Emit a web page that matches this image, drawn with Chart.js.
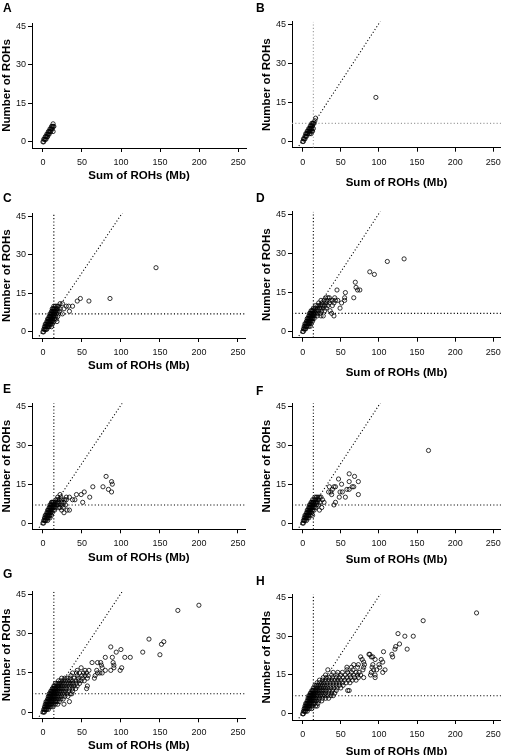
<!DOCTYPE html>
<html>
<head>
<meta charset="utf-8">
<script src="https://cdn.jsdelivr.net/npm/chart.js@4.4.1/dist/chart.umd.min.js"></script>
<style>
html, body { margin: 0; padding: 0; background: #fff; overflow: hidden; }
body { width: 506px; height: 755px; position: relative; }
canvas { position: absolute; }
</style>
</head>
<body>
<script>
// [sum of ROHs (Mb), number of ROHs] per individual
const rohA = [[0,0],[1,0],[1,1],[2,1],[3,1],[3,2],[4,2],[5,2],[5,3],[6,3],[7,3],[7,4],[8,4],[9,4],[9,5],[10,5],[11,5],[11,6],[12,6],[13,6],[13,7],[12,5],[10,4],[13,4],[8,3],[14,6],[6,2],[4,1]];

const rohB = [[0,0],[1,0],[1,1],[2,1],[3,1],[3,2],[4,2],[5,2],[4,3],[5,3],[6,3],[7,3],[6,4],[7,4],[8,4],[9,4],[8,5],[9,5],[10,5],[11,5],[10,6],[11,6],[12,6],[13,6],[12,7],[13,7],[14,7],[15,7],[16,8],[17,9],[9,3],[11,3],[12,4],[13,4],[14,5],[10,4],[12,5],[96,17]];

const rohC = [[0,0],[1,0],[1,1],[2,1],[3,1],[4,1],[5,1],[2,2],[3,2],[4,2],[5,2],[6,2],[7,2],[8,2],[11,2],
  [3,3],[4,3],[5,3],[6,3],[7,3],[8,3],[9,3],[10,3],[12,3],[5,4],[6,4],[7,4],[8,4],[9,4],[10,4],[11,4],[12,4],[14,4],[18,4],
  [6,5],[7,5],[8,5],[9,5],[10,5],[11,5],[12,5],[13,5],[15,5],[17,5],[8,6],[9,6],[10,6],[11,6],[12,6],[13,6],[14,6],[16,6],[19,6],
  [9,7],[10,7],[11,7],[12,7],[13,7],[14,7],[15,7],[17,7],[20,7],[25,7],[11,8],[12,8],[13,8],[14,8],[15,8],[16,8],[18,8],[21,8],[34,8],
  [12,9],[13,9],[14,9],[15,9],[17,9],[19,9],[22,9],[27,9],[14,10],[16,10],[18,10],[20,10],[30,10],[33,10],[38,10],
  [22,11],[25,11],[44,12],[59,12],[48,13],[86,13],[145,25]];

const rohD = [[0,0],[1,0],[1,1],[2,1],[3,1],[4,1],[2,2],[3,2],[4,2],[5,2],[6,2],[8,2],[10,2],
  [3,3],[4,3],[5,3],[6,3],[7,3],[8,3],[9,3],[11,3],[5,4],[6,4],[7,4],[8,4],[9,4],[10,4],[11,4],[13,4],
  [6,5],[7,5],[8,5],[9,5],[10,5],[11,5],[12,5],[13,5],[15,5],[8,6],[9,6],[10,6],[11,6],[12,6],[13,6],[14,6],[16,6],[19,6],[24,6],[27,6],[41,6],
  [9,7],[10,7],[11,7],[12,7],[13,7],[14,7],[15,7],[17,7],[20,7],[23,7],[38,7],[11,8],[12,8],[13,8],[14,8],[16,8],[18,8],[21,8],[25,8],[29,8],[36,8],
  [14,9],[16,9],[19,9],[22,9],[24,9],[27,9],[31,9],[49,9],[17,10],[20,10],[23,10],[26,10],[29,10],[33,10],[39,10],
  [21,11],[25,11],[28,11],[31,11],[35,11],[41,11],[51,11],[24,12],[28,12],[32,12],[36,12],[39,12],[43,12],[46,12],[55,12],
  [30,13],[33,13],[35,13],[42,13],[55,13],[67,13],[56,15],[45,16],[72,16],[75,16],[70,17],[69,19],[94,22],[88,23],[111,27],[133,28]];

const rohE = [[0,0],[1,0],[1,1],[2,1],[3,1],[4,1],[6,1],[2,2],[3,2],[4,2],[5,2],[6,2],[7,2],[9,2],
  [3,3],[4,3],[5,3],[6,3],[7,3],[8,3],[9,3],[11,3],[5,4],[6,4],[7,4],[8,4],[9,4],[10,4],[12,4],[27,4],
  [6,5],[7,5],[8,5],[9,5],[10,5],[11,5],[13,5],[15,5],[24,5],[31,5],[34,5],[8,6],[9,6],[10,6],[11,6],[12,6],[13,6],[14,6],[16,6],[20,6],[22,6],[26,6],
  [9,7],[10,7],[11,7],[12,7],[13,7],[14,7],[15,7],[17,7],[19,7],[22,7],[25,7],[29,7],[11,8],[12,8],[13,8],[14,8],[16,8],[18,8],[20,8],[24,8],[27,8],[51,8],
  [17,9],[19,9],[21,9],[24,9],[28,9],[30,9],[38,9],[41,9],[19,10],[23,10],[30,10],[34,10],[60,10],
  [22,11],[43,11],[49,11],[53,12],[88,12],[84,13],[64,14],[77,14],[89,15],[88,16],[81,18]];

const rohF = [[0,0],[1,0],[1,1],[2,1],[3,1],[5,1],[2,2],[3,2],[4,2],[5,2],[6,2],[8,2],
  [3,3],[4,3],[5,3],[6,3],[7,3],[8,3],[10,3],[13,3],[5,4],[6,4],[7,4],[8,4],[9,4],[10,4],[12,4],
  [6,5],[7,5],[8,5],[9,5],[10,5],[11,5],[13,5],[15,5],[22,5],[8,6],[9,6],[10,6],[11,6],[12,6],[13,6],[15,6],[17,6],[25,6],
  [9,7],[10,7],[11,7],[12,7],[13,7],[14,7],[16,7],[18,7],[21,7],[41,7],[11,8],[12,8],[13,8],[14,8],[15,8],[17,8],[19,8],[23,8],[28,8],[43,8],
  [13,9],[15,9],[17,9],[19,9],[21,9],[26,9],[16,10],[18,10],[20,10],[22,10],[24,10],[48,10],[56,10],
  [38,11],[73,11],[34,12],[37,12],[49,12],[52,12],[39,13],[58,13],[61,13],[35,14],[41,14],[43,14],[65,14],[67,14],
  [51,15],[61,16],[73,16],[47,17],[68,18],[61,19],[165,28]];

const rohG = [[0,0],[1,0],[2,0],[1,1],[2,1],[3,1],[4,1],[5,1],[7,1],[2,2],[3,2],[4,2],[5,2],[6,2],[7,2],[8,2],[10,2],[13,2],
  [3,3],[4,3],[5,3],[6,3],[7,3],[8,3],[9,3],[10,3],[12,3],[14,3],[16,3],[19,3],[27,3],
  [4,4],[5,4],[6,4],[7,4],[8,4],[9,4],[10,4],[11,4],[12,4],[14,4],[16,4],[18,4],[21,4],[34,4],
  [6,5],[7,5],[8,5],[9,5],[10,5],[11,5],[12,5],[13,5],[14,5],[16,5],[18,5],[20,5],[23,5],[26,5],
  [7,6],[8,6],[9,6],[10,6],[11,6],[12,6],[13,6],[14,6],[15,6],[17,6],[19,6],[21,6],[24,6],[28,6],[32,6],
  [8,7],[9,7],[10,7],[11,7],[12,7],[13,7],[14,7],[15,7],[16,7],[18,7],[20,7],[22,7],[25,7],[28,7],[31,7],[35,7],[37,7],
  [10,8],[11,8],[12,8],[13,8],[14,8],[15,8],[16,8],[17,8],[19,8],[21,8],[23,8],[26,8],[29,8],[33,8],[38,8],
  [12,9],[13,9],[14,9],[15,9],[16,9],[18,9],[20,9],[22,9],[24,9],[27,9],[30,9],[34,9],[38,9],[42,9],[56,9],
  [14,10],[15,10],[17,10],[19,10],[21,10],[23,10],[25,10],[28,10],[31,10],[34,10],[37,10],[40,10],[44,10],[57,10],
  [16,11],[18,11],[20,11],[22,11],[24,11],[27,11],[30,11],[33,11],[36,11],[39,11],[43,11],[47,11],
  [20,12],[23,12],[26,12],[29,12],[32,12],[35,12],[38,12],[42,12],[46,12],[49,12],[53,12],
  [24,13],[28,13],[31,13],[35,13],[40,13],[45,13],[51,13],[57,13],[66,13],[36,14],[44,14],[50,14],[54,14],[58,14],[67,14],
  [38,15],[43,15],[47,15],[52,15],[56,15],[70,15],[73,15],[76,15],[44,16],[54,16],[59,16],[69,16],[80,16],[87,16],[99,16],
  [49,17],[76,17],[91,17],[101,17],[75,18],[91,18],[63,19],[70,19],[74,19],[90,19],[80,21],[89,21],[105,21],[112,21],
  [150,22],[94,23],[128,23],[100,24],[87,25],[152,26],[155,27],[136,28],[173,39],[200,41]];

const rohH = [[0,0],[1,0],[1,1],[2,1],[3,1],[4,1],[6,1],[2,2],[3,2],[4,2],[5,2],[6,2],[7,2],[9,2],[12,2],
  [3,3],[4,3],[5,3],[6,3],[7,3],[8,3],[9,3],[11,3],[13,3],[17,3],[19,3],[4,4],[5,4],[6,4],[7,4],[8,4],[9,4],[10,4],[12,4],[14,4],[16,4],[20,4],
  [6,5],[7,5],[8,5],[9,5],[10,5],[11,5],[12,5],[14,5],[16,5],[18,5],[21,5],[25,5],
  [7,6],[8,6],[9,6],[10,6],[11,6],[12,6],[13,6],[15,6],[17,6],[19,6],[22,6],[26,6],[30,6],[34,6],
  [8,7],[9,7],[10,7],[11,7],[12,7],[13,7],[14,7],[16,7],[18,7],[20,7],[23,7],[26,7],[29,7],[33,7],[37,7],[40,7],
  [10,8],[11,8],[12,8],[13,8],[14,8],[15,8],[17,8],[19,8],[21,8],[24,8],[27,8],[30,8],[34,8],[38,8],[42,8],
  [12,9],[13,9],[14,9],[16,9],[18,9],[20,9],[22,9],[25,9],[28,9],[31,9],[35,9],[39,9],[44,9],[59,9],[61,9],
  [14,10],[16,10],[18,10],[20,10],[22,10],[24,10],[27,10],[30,10],[33,10],[37,10],[41,10],[45,10],[50,10],
  [16,11],[18,11],[20,11],[23,11],[26,11],[29,11],[32,11],[36,11],[40,11],[44,11],[48,11],[53,11],
  [19,12],[22,12],[25,12],[28,12],[32,12],[36,12],[40,12],[44,12],[48,12],[52,12],[57,12],[62,12],
  [22,13],[26,13],[30,13],[34,13],[38,13],[42,13],[46,13],[50,13],[55,13],[60,13],[65,13],[70,13],
  [27,14],[31,14],[35,14],[39,14],[44,14],[48,14],[53,14],[58,14],[63,14],[68,14],[73,14],[80,14],[95,14],
  [30,15],[38,15],[45,15],[50,15],[56,15],[62,15],[67,15],[72,15],[76,15],[89,15],[95,15],
  [40,16],[46,16],[52,16],[59,16],[64,16],[70,16],[74,16],[90,16],[105,16],[33,17],[58,17],[66,17],[79,17],[93,17],[97,17],[108,17],
  [58,18],[64,18],[72,18],[80,18],[91,18],[101,18],[67,19],[73,19],[81,19],[92,19],[100,19],[80,20],[105,20],
  [78,21],[95,21],[103,21],[76,22],[90,22],[92,22],[118,22],[87,23],[88,23],[117,23],[106,24],[121,25],[137,25],
  [122,26],[127,27],[134,30],[145,30],[125,31],[158,36],[228,39]];

const sumTicks = [0, 50, 100, 150, 200, 250];
const countTicks = [0, 15, 30, 45];

// reference cut-offs and line drawn in panels B-H
const sumCut = 14;
const countCut = 7;
const refSlope = 0.45;
const refIntercept = 0.5;

const xMin = -14, xMax = 260;
const yMin = -2.4, yMax = 46.2;

const CW = 253, CH = 196;

// canvas position, plot box (page px), title centres, letter baseline
const panels = [
  { letter: "A", data: rohA, cx: 0,   cy: 0,   plot: [32, 23, 246, 148],        xt: 176,   yt: 7,    lx: 3,   ly: 11.7, guides: null },
  { letter: "B", data: rohB, cx: 253, cy: 0,   plot: [292, 21.7, 503.7, 147.7], xt: 183.3, yt: 266.5, lx: 256, ly: 11.7, guides: "#9a9a9a" },
  { letter: "C", data: rohC, cx: 0,   cy: 190, plot: [32, 213.3, 245.7, 338],   xt: 366.3, yt: 7,    lx: 3,   ly: 201.7, guides: "#000" },
  { letter: "D", data: rohD, cx: 253, cy: 190, plot: [292, 211.7, 503.7, 337.7], xt: 373.3, yt: 266.5, lx: 256, ly: 201.7, guides: "#000" },
  { letter: "E", data: rohE, cx: 0,   cy: 377, plot: [32, 403.3, 245.7, 529.3], xt: 558.3, yt: 7,    lx: 3,   ly: 393.3, guides: "#000" },
  { letter: "F", data: rohF, cx: 253, cy: 377, plot: [292, 403.3, 503.7, 529.3], xt: 560,   yt: 266.5, lx: 256, ly: 395, guides: "#000" },
  { letter: "G", data: rohG, cx: 0,   cy: 566, plot: [32, 591.7, 245.7, 718.3], xt: 746.3, yt: 7,    lx: 3,   ly: 578.3, guides: "#000" },
  { letter: "H", data: rohH, cx: 253, cy: 566, plot: [292, 594.3, 503.7, 720],   xt: 751.7, yt: 266.5, lx: 256, ly: 585, guides: "#000" }
];

Chart.defaults.font.family = "Arial, 'Liberation Sans', sans-serif";
Chart.defaults.color = "#000";
Chart.defaults.animation = false;

const letterPlugin = {
  id: "panelLetter",
  afterDraw(chart, args, opts) {
    const ctx = chart.ctx;
    ctx.save();
    ctx.font = "bold 12px Arial, 'Liberation Sans', sans-serif";
    ctx.fillStyle = "#000";
    ctx.textBaseline = "alphabetic";
    ctx.fillText(opts.text, opts.x, opts.y);
    ctx.restore();
  }
};

const dotted = (color, pts) => ({
  type: "line",
  data: pts,
  borderColor: color,
  borderWidth: 1.1,
  borderDash: [1.1, 2.2],
  pointRadius: 0,
  fill: false,
  showLine: true,
  order: 2
});

panels.forEach(p => {
  const cv = document.createElement("canvas");
  cv.width = CW;
  cv.height = CH;
  cv.style.left = p.cx + "px";
  cv.style.top = p.cy + "px";
  cv.style.width = CW + "px";
  cv.style.height = CH + "px";
  document.body.appendChild(cv);

  const L = p.plot[0] - p.cx;
  const T = p.plot[1] - p.cy;
  const R = p.plot[2] - p.cx;
  const B = p.plot[3] - p.cy;

  const datasets = [{
    data: p.data.map(d => ({ x: d[0], y: d[1] })),
    pointStyle: "circle",
    pointRadius: 2.1,
    pointBorderWidth: 0.8,
    pointBorderColor: "#000",
    pointBackgroundColor: "rgba(0,0,0,0)",
    showLine: false,
    order: 1
  }];

  if (p.guides) {
    datasets.push(dotted(p.guides, [{ x: sumCut, y: yMin }, { x: sumCut, y: yMax }]));
    datasets.push(dotted(p.guides, [{ x: xMin, y: countCut }, { x: xMax, y: countCut }]));
    datasets.push(dotted("#000", [
      { x: -5, y: refIntercept + refSlope * -5 },
      { x: 110, y: refIntercept + refSlope * 110 }
    ]));
  }

  const tickFont = { size: 9 };
  const titleFont = { size: 11.5, weight: "bold" };

  new Chart(cv, {
    type: "scatter",
    data: { datasets },
    plugins: [letterPlugin],
    options: {
      responsive: false,
      devicePixelRatio: 1,
      events: [],
      layout: { padding: { top: T, right: CW - R, left: 0, bottom: 0 } },
      plugins: {
        legend: { display: false },
        tooltip: { enabled: false },
        panelLetter: { text: p.letter, x: p.lx - p.cx, y: p.ly - p.cy }
      },
      scales: {
        x: {
          type: "linear",
          min: xMin,
          max: xMax,
          afterBuildTicks: s => { s.ticks = sumTicks.map(v => ({ value: v })); },
          afterFit: s => { s.height = CH - B; },
          ticks: { font: tickFont, color: "#111", padding: 5, maxRotation: 0, autoSkip: false },
          grid: { drawOnChartArea: false, drawTicks: true, tickLength: 4, color: "#000", lineWidth: 1 },
          border: { display: true, color: "#000", width: 1 },
          title: {
            display: true,
            text: "Sum of ROHs (Mb)",
            font: titleFont,
            color: "#000",
            padding: { top: 0, bottom: CH - 6.9 - (p.xt - p.cy) }
          }
        },
        y: {
          type: "linear",
          min: yMin,
          max: yMax,
          afterBuildTicks: s => { s.ticks = countTicks.map(v => ({ value: v })); },
          afterFit: s => { s.width = L; },
          ticks: { font: tickFont, color: "#111", padding: 2, autoSkip: false },
          grid: { drawOnChartArea: false, drawTicks: true, tickLength: 4, color: "#000", lineWidth: 1 },
          border: { display: true, color: "#000", width: 1 },
          title: {
            display: true,
            text: "Number of ROHs",
            font: titleFont,
            color: "#000",
            padding: { top: (p.yt - p.cx) - 6.9, bottom: 0 }
          }
        }
      }
    }
  });
});
</script>
</body>
</html>
